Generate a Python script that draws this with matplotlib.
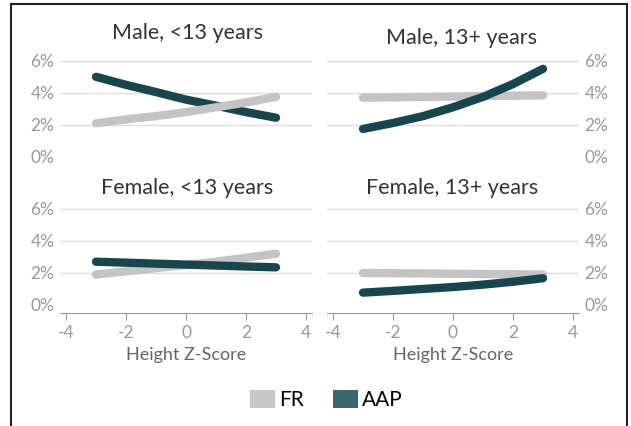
import numpy as np
import matplotlib.pyplot as plt
from matplotlib.patches import Patch, Rectangle

plt.rcParams['font.family'] = ['Lato', 'DejaVu Sans']
plt.rcParams['axes.unicode_minus'] = False

z = [-3, -2, -1, 0, 1, 2, 3]

titles = ['Male, <13 years', 'Male, 13+ years', 'Female, <13 years', 'Female, 13+ years']

# percent at each z
fr = [
    [2.1, 2.35, 2.55, 2.8, 3.1, 3.4, 3.75],
    [3.7, 3.72, 3.75, 3.77, 3.8, 3.82, 3.85],
    [1.9, 2.1, 2.3, 2.5, 2.7, 2.95, 3.2],
    [2.0, 1.98, 1.97, 1.95, 1.93, 1.92, 1.9],
]
aap = [
    [5.0, 4.5, 4.05, 3.58, 3.2, 2.8, 2.45],
    [1.75, 2.12, 2.55, 3.1, 3.75, 4.55, 5.5],
    [2.7, 2.64, 2.58, 2.52, 2.46, 2.4, 2.35],
    [0.77, 0.88, 1.0, 1.12, 1.27, 1.45, 1.67],
]

fr_color = '#c4c4c4'
aap_color = '#17464f'
W, H = 631, 426

fig = plt.figure(figsize=(6.31, 4.26), dpi=100)

# panel boxes in pixels: left, right, top, bottom
boxes = [(60, 312, 56, 165), (327, 579, 56, 165),
         (60, 312, 204, 313), (327, 579, 204, 313)]
title_y = [33, 38, 188, 188]
title_x = [187, 462, 187, 452]

for i, (l, r, t, b) in enumerate(boxes):
    ax = fig.add_axes([l / W, 1 - b / H, (r - l) / W, (b - t) / H])
    ax.set_xlim(-4.2, 4.2)
    ax.set_ylim(-0.5, 6.3)
    for g in [2, 4, 6]:
        ax.axhline(g, color='#dddddd', lw=1, zorder=0)
    ax.plot(z, fr[i], color=fr_color, lw=6, solid_capstyle='round', zorder=3 if i == 0 else 2)
    ax.plot(z, aap[i], color=aap_color, lw=6, solid_capstyle='round', zorder=2 if i == 0 else 3)
    for s in ['top', 'left', 'right']:
        ax.spines[s].set_visible(False)
    ax.set_yticks([0, 2, 4, 6])
    ax.set_yticklabels(['0%', '2%', '4%', '6%'])
    ax.tick_params(axis='y', length=0, labelsize=12.5, labelcolor='#999999', pad=4)
    if i % 2 == 1:
        ax.yaxis.tick_right()
    ax.set_xticks([-4, -2, 0, 2, 4])
    if i < 2:
        ax.spines['bottom'].set_visible(False)
        ax.tick_params(axis='x', length=0, labelbottom=False)
    else:
        ax.spines['bottom'].set_color('#999999')
        ax.tick_params(axis='x', length=5, color='#999999', labelsize=12.5,
                       labelcolor='#999999', pad=4)
        ax.set_xlabel('Height Z-Score', fontsize=13, color='#666666', labelpad=4)
    fig.text(title_x[i] / W, 1 - title_y[i] / H, titles[i], ha='center', va='center',
             fontsize=15.5, color='#333333')

handles = [Patch(facecolor='#c8c8c8', label='FR'), Patch(facecolor='#3a6870', label='AAP')]
fig.legend(handles=handles, loc='center', bbox_to_anchor=(326 / W, 1 - 400 / H), ncol=2,
           frameon=False, fontsize=15, handlelength=1.2, handleheight=1.0,
           handletextpad=0.2, columnspacing=1.4)

fig.patches.append(Rectangle((11 / W, -0.1), 616 / W, 1.1 - 4 / H, transform=fig.transFigure,
                             fill=False, edgecolor='#222222', lw=1.5))

fig.savefig('out.png', dpi=100)
